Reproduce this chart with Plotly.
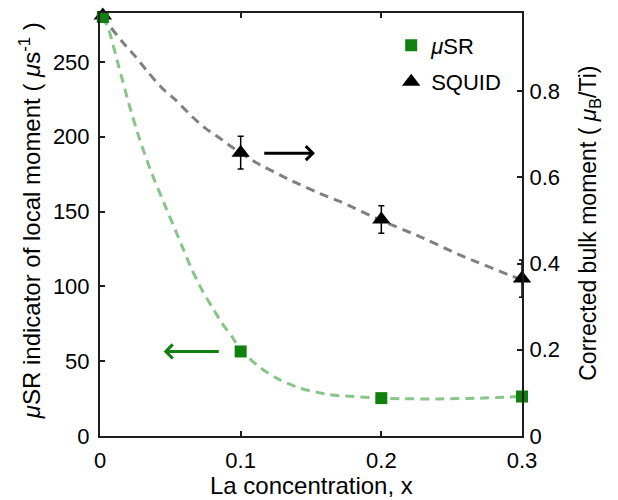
import plotly.graph_objects as go

# La concentration of the samples
x_samples = [0.002, 0.1, 0.2, 0.3]

# muSR local-moment indicator (us^-1) and its uncertainty
musr_values = [280, 56.5, 25.3, 26.4]
musr_err = [0, 3, 0, 0]

# SQUID corrected bulk moment (mu_B / Ti) and its uncertainty
squid_values = [0.975, 0.657, 0.502, 0.365]
squid_err = [0, 0.038, 0.032, 0.043]

# Guide-to-the-eye curve through the muSR data
musr_fit_x = [0.002, 0.0062, 0.0133, 0.0204, 0.0275, 0.0358, 0.0465, 0.0535, 0.0594,
              0.0654, 0.0724, 0.0795, 0.0867, 0.0938, 0.1, 0.114, 0.128, 0.142, 0.163,
              0.2, 0.213, 0.242, 0.27, 0.3]
musr_fit_y = [280, 271.6, 247, 222.5, 200.2, 177.9, 153.4, 137.8, 124.4,
              111.0, 97.7, 86.5, 75.4, 66.4, 57.5, 45.5, 37.5, 32.0, 27.6,
              25.4, 24.9, 24.8, 25.3, 26.5]

# Guide-to-the-eye curve through the SQUID data
squid_fit_x = [0.002, 0.0062, 0.0157, 0.0252, 0.0346, 0.0441, 0.0535, 0.0654, 0.0748,
               0.0867, 0.0938, 0.1115, 0.135, 0.1587, 0.1706, 0.199, 0.227, 0.2557,
               0.2935, 0.3]
squid_fit_y = [0.975, 0.954, 0.915, 0.880, 0.842, 0.807, 0.780, 0.741, 0.714,
               0.687, 0.670, 0.633, 0.594, 0.559, 0.544, 0.501, 0.463, 0.42,
               0.370, 0.362]

# Arrows pointing each series to its axis: (tail_x, head_x, y)
squid_arrow = [0.1157, 0.1528, 0.656]
musr_arrow = [0.0855, 0.0452, 56.5]

# Axis titles
x_title = "La concentration, x"
left_title = "<i>μ</i>SR indicator of local moment ( <i>μ</i>s<sup>-1</sup> )"
right_title = "Corrected bulk moment ( <i>μ</i><sub>B</sub>/Ti)"

GREEN = "#10800f"
GREEN_LIGHT = "#88c688"
AXIS = "#1e1e1e"
FONT = "Liberation Sans, Arial, Helvetica, sans-serif"

fig = go.Figure()

# SQUID on the right-hand axis (base y axis)
fig.add_trace(go.Scatter(
    x=squid_fit_x, y=squid_fit_y, mode="lines", yaxis="y",
    line=dict(color="#808080", width=3, dash="9px,6px", shape="spline", smoothing=0.6),
    showlegend=False, hoverinfo="skip"))
fig.add_trace(go.Scatter(
    x=x_samples, y=squid_values, mode="markers", yaxis="y", name="SQUID",
    legendgroup="b", legendrank=2,
    marker=dict(symbol="triangle-up", size=16, color="black"),
    error_y=dict(type="data", array=squid_err, color="black", thickness=1.5, width=3),
    cliponaxis=False))

# muSR on the left-hand axis (overlaid)
fig.add_trace(go.Scatter(
    x=musr_fit_x, y=musr_fit_y, mode="lines", yaxis="y2",
    line=dict(color=GREEN_LIGHT, width=3, dash="9px,6px", shape="spline", smoothing=0.6),
    showlegend=False, hoverinfo="skip"))
fig.add_trace(go.Scatter(
    x=x_samples, y=musr_values, mode="markers", yaxis="y2", name="<i>μ</i>SR",
    legendgroup="a", legendrank=1,
    marker=dict(symbol="square", size=12, color=GREEN),
    error_y=dict(type="data", array=musr_err, color=GREEN, thickness=2, width=3),
    cliponaxis=False))

fig.add_annotation(x=squid_arrow[1], y=squid_arrow[2], ax=squid_arrow[0], ay=squid_arrow[2],
                   xref="x", yref="y", axref="x", ayref="y", text="", showarrow=True,
                   arrowhead=4, arrowsize=0.9, arrowwidth=3, arrowcolor="black")
fig.add_annotation(x=musr_arrow[1], y=musr_arrow[2], ax=musr_arrow[0], ay=musr_arrow[2],
                   xref="x", yref="y2", axref="x", ayref="y2", text="", showarrow=True,
                   arrowhead=4, arrowsize=0.9, arrowwidth=3, arrowcolor=GREEN)

# Axis titles placed in paper coordinates
fig.add_annotation(text=x_title, xref="paper", yref="paper", x=0.5, y=-0.118,
                   xanchor="center", yanchor="middle", showarrow=False,
                   font=dict(size=24, family=FONT, color="black"))
fig.add_annotation(text=left_title, xref="paper", yref="paper", x=-0.166, y=0.51,
                   xanchor="center", yanchor="middle", textangle=-90, showarrow=False,
                   font=dict(size=24, family=FONT, color="black"))
fig.add_annotation(text=right_title, xref="paper", yref="paper", x=1.161, y=0.504,
                   xanchor="center", yanchor="middle", textangle=-90, showarrow=False,
                   font=dict(size=23, family=FONT, color="black"))

axis_common = dict(showgrid=False, zeroline=False, showline=True, linecolor=AXIS,
                   linewidth=2, ticks="inside", ticklen=5, tickwidth=1.5, tickcolor=AXIS,
                   automargin=False,
                   tickfont=dict(size=22, color="black", family=FONT))

fig.update_layout(
    width=618, height=500,
    margin=dict(l=100, r=96, t=13, b=64),
    paper_bgcolor="white", plot_bgcolor="white",
    font=dict(family=FONT, color="black"),
    xaxis=dict(range=[0, 0.3], tickvals=[0, 0.1, 0.2, 0.3], ticktext=["0", "0.1", "0.2", "0.3"],
               mirror="ticks", ticklabelstandoff=4, **axis_common),
    yaxis=dict(range=[0, 0.981], side="right", tick0=0, dtick=0.2, ticklabelstandoff=1,
               **axis_common),
    yaxis2=dict(range=[0, 282.7], side="left", overlaying="y", tick0=0, dtick=50,
                ticklabelstandoff=4, **axis_common),
    legend=dict(x=0.69, y=0.973, xanchor="left", yanchor="top", bgcolor="rgba(0,0,0,0)",
                font=dict(size=22, family=FONT), traceorder="grouped", tracegroupgap=5),
    showlegend=True,
)

fig.write_html("out.html")
